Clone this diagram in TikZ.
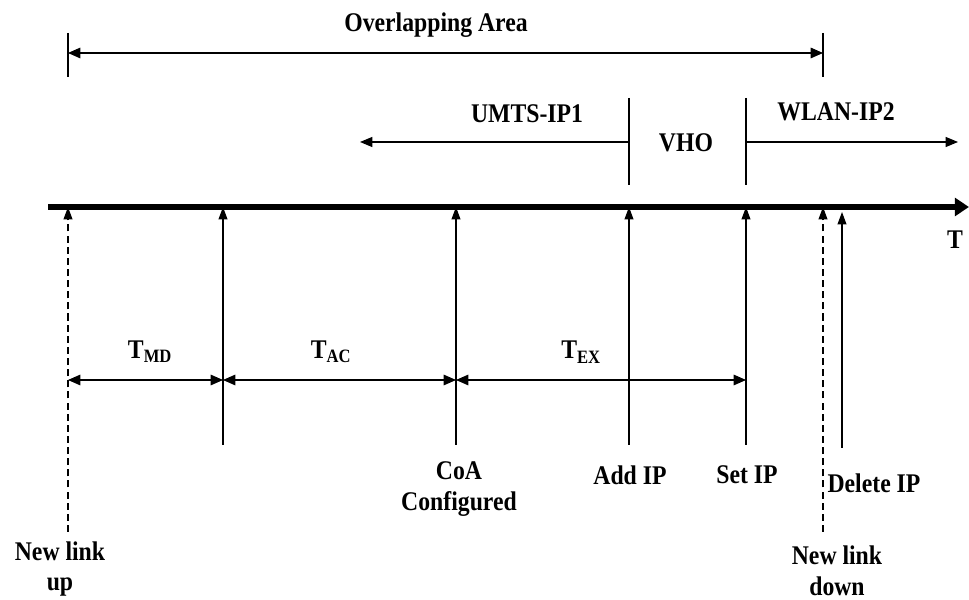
\documentclass[tikz,border=0pt]{standalone}
\usepackage{fontspec}
\setmainfont{Liberation Serif}[FakeStretch=0.88]
\usetikzlibrary{arrows.meta}

\begin{document}
\begin{tikzpicture}[x=0.03cm, y=-0.03cm,
  lbl/.style={font=\fontsize{23}{26}\selectfont\bfseries, inner sep=0pt, align=center},
  line/.style={line width=1pt},
  event/.style={line width=1pt, -{Triangle[length=10.5pt, width=7.5pt]}},
  span/.style={line width=1pt, {Triangle[length=10.5pt, width=9pt]}-{Triangle[length=10.5pt, width=9pt]}},
  side/.style={line width=1pt, -{Triangle[length=10.5pt, width=8.5pt]}},
  time/.style={line width=4.3pt, -{Triangle[length=12pt, width=15pt]}}]
  \useasboundingbox (0,0) rectangle (969,600);

  % overlapping area
  \coordinate (ov-l) at (68,53);
  \coordinate (ov-r) at (823,53);
  \coordinate (ov-lt) at (68,33);
  \coordinate (ov-lb) at (68,77);
  \coordinate (ov-rt) at (823,33);
  \coordinate (ov-rb) at (823,77);
  \draw[line] (ov-lt) -- (ov-lb);
  \draw[line] (ov-rt) -- (ov-rb);
  \draw[span] (ov-l) -- (ov-r);
  \node[lbl] (overlap) at (436,25) {Overlapping Area};

  % VHO window
  \coordinate (vho-lt) at (629,98);
  \coordinate (vho-lb) at (629,185);
  \coordinate (vho-rt) at (746,98);
  \coordinate (vho-rb) at (746,185);
  \coordinate (vho-l) at (629,142);
  \coordinate (vho-r) at (746,142);
  \coordinate (umts-end) at (360,142);
  \coordinate (wlan-end) at (958,142);
  \draw[line] (vho-lt) -- (vho-lb);
  \draw[line] (vho-rt) -- (vho-rb);
  \draw[side] (vho-l) -- (umts-end);
  \draw[side] (vho-r) -- (wlan-end);
  \node[lbl] (umts) at (527,114) {UMTS-IP1};
  \node[lbl] (vho) at (686,143) {VHO};
  \node[lbl] (wlan) at (836,112) {WLAN-IP2};

  % time axis
  \coordinate (t-start) at (48,207);
  \coordinate (t-end) at (969,207);
  \draw[time] (t-start) -- (t-end);
  \node[lbl] (t) at (955,240) {T};

  % events on the axis
  \coordinate (up) at (68,207);
  \coordinate (md) at (223,207);
  \coordinate (coa) at (456,207);
  \coordinate (add) at (629,207);
  \coordinate (set) at (746,207);
  \coordinate (down) at (823,207);
  \coordinate (del) at (842,212);
  \coordinate (up-b) at (68,532);
  \coordinate (md-b) at (223,445);
  \coordinate (coa-b) at (456,445);
  \coordinate (add-b) at (629,445);
  \coordinate (set-b) at (746,445);
  \coordinate (down-b) at (823,532);
  \coordinate (del-b) at (842,448);
  \draw[event, dash pattern=on 6pt off 3.5pt] (up-b) -- (up);
  \draw[event] (md-b) -- (md);
  \draw[event] (coa-b) -- (coa);
  \draw[event] (add-b) -- (add);
  \draw[event] (set-b) -- (set);
  \draw[event, dash pattern=on 6pt off 3.5pt] (down-b) -- (down);
  \draw[event] (del-b) -- (del);

  % durations
  \coordinate (d-up) at (68,380);
  \coordinate (d-md) at (223,380);
  \coordinate (d-coa) at (456,380);
  \coordinate (d-set) at (746,380);
  \draw[span] (d-up) -- (d-md);
  \draw[span] (d-md) -- (d-coa);
  \draw[span] (d-coa) -- (d-set);
  \node[lbl] (tmd) at (150,352) {T\textsubscript{MD}};
  \node[lbl] (tac) at (331,352) {T\textsubscript{AC}};
  \node[lbl] (tex) at (581,352) {T\textsubscript{EX}};

  % event labels
  \node[lbl] (coa-l) at (459,489) {CoA\\Configured};
  \node[lbl] (add-l) at (630,475) {Add IP};
  \node[lbl] (set-l) at (747,475) {Set IP};
  \node[lbl] (del-l) at (874,483) {Delete IP};
  \node[lbl] (up-l) at (60,569) {New link\\up};
  \node[lbl] (down-l) at (837,571) {New link\\down};
\end{tikzpicture}
\end{document}
